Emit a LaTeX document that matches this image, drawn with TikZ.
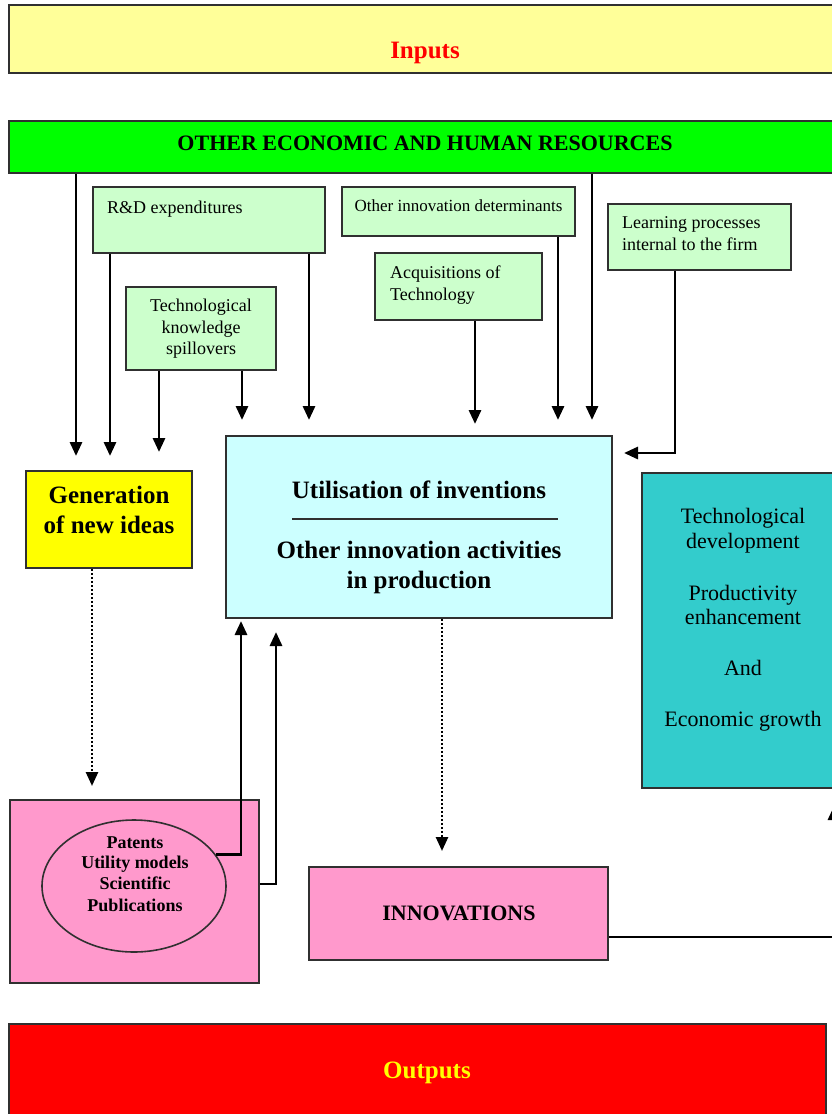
\documentclass[tikz,border=0pt]{standalone}
\usepackage{fontspec}
\setmainfont{Liberation Serif}
\usetikzlibrary{arrows.meta,shapes.geometric}
\definecolor{inpY}{HTML}{FFFF99}
\definecolor{resG}{HTML}{00FF00}
\definecolor{litG}{HTML}{CCFFCC}
\definecolor{litC}{HTML}{CCFFFF}
\definecolor{genY}{HTML}{FFFF00}
\definecolor{tealC}{HTML}{33CCCC}
\definecolor{pinkC}{HTML}{FF99CC}
\definecolor{redC}{HTML}{FF0000}
\definecolor{edgeC}{HTML}{303030}
\begin{document}
\begin{tikzpicture}[x=1pt,y=-1pt,
  box/.style={draw=edgeC, line width=1.5pt, rectangle, inner sep=0pt},
  arr/.style={line width=2.9pt, -{Triangle[width=12pt,length=14pt]}},
  dotarr/.style={line width=2.6pt, dash pattern=on 2pt off 2pt, -{Triangle[width=12pt,length=14pt]}},
  txt/.style={anchor=base, inner sep=0pt},
  txtw/.style={anchor=base west, inner sep=0pt},
  small/.style={font=\fontsize{18}{21}\selectfont},
  big/.style={font=\fontsize{25}{29}\selectfont\bfseries},
  teal/.style={font=\fontsize{22}{25}\selectfont},
  ellt/.style={font=\fontsize{18}{21}\selectfont\bfseries},
]
\clip (0,0) rectangle (832,1114);
\fill[white] (0,0) rectangle (832,1114);

% boxes
\node[box, fill=inpY, minimum width=841pt, minimum height=68pt] (inputs) at (429.5,39) {};
\node[box, fill=resG, minimum width=841pt, minimum height=52pt] (green) at (429.5,147) {};
\node[box, fill=litG, minimum width=232pt, minimum height=66pt] (rd) at (209,220) {};
\node[box, fill=litG, minimum width=233pt, minimum height=49pt] (oid) at (458.5,211.5) {};
\node[box, fill=litG, minimum width=183pt, minimum height=66pt] (learn) at (699.5,237) {};
\node[box, fill=litG, minimum width=167pt, minimum height=67pt] (acq) at (458.5,286.5) {};
\node[box, fill=litG, minimum width=150pt, minimum height=83pt] (spill) at (201,328.5) {};
\node[box, fill=litC, minimum width=386pt, minimum height=182pt] (util) at (419,527) {};
\node[box, fill=genY, minimum width=166pt, minimum height=97pt] (gen) at (109,519.5) {};
\node[box, fill=tealC, minimum width=208pt, minimum height=315pt] (tealbox) at (746,630.5) {};
\node[box, fill=pinkC, minimum width=249pt, minimum height=183pt] (pink) at (134.5,891.5) {};
\node[draw=edgeC, line width=1.6pt, ellipse, minimum width=184pt, minimum height=132pt, inner sep=0pt] (ell) at (134,886) {};
\node[box, fill=pinkC, minimum width=299pt, minimum height=93pt] (innov) at (458.5,913.5) {};
\node[box, fill=redC, minimum width=817pt, minimum height=106pt] (outputs) at (417.5,1077) {};

% texts
\node[txt, big, text=redC] (tin) at (425,58) {Inputs};
\node[txt, font=\fontsize{22}{25}\selectfont\bfseries] (tgr) at (425,150) {OTHER ECONOMIC AND HUMAN RESOURCES};
\node[txtw, small] (trd) at (107,213) {R\&D expenditures};
\node[txt, font=\fontsize{17}{20}\selectfont] (toid) at (458.5,211) {Other innovation determinants};
\node[txtw, small] (tl1) at (622,228) {Learning processes};
\node[txtw, small] (tl2) at (622,250) {internal to the firm};
\node[txtw, small] (ta1) at (390,278) {Acquisitions of};
\node[txtw, small] (ta2) at (390,300) {Technology};
\node[txt, small] (ts1) at (201,311) {Technological};
\node[txt, small] (ts2) at (201,333) {knowledge};
\node[txt, small] (ts3) at (201,354) {spillovers};
\node[txt, big] (tg1) at (109,503) {Generation};
\node[txt, big] (tg2) at (109,533) {of new ideas};
\node[txt, big] (tu1) at (419,498) {Utilisation of inventions};
\node[txt, big] (tu2) at (419,558) {Other innovation activities};
\node[txt, big] (tu3) at (419,588) {in production};
\draw[line width=1.6pt, edgeC] (292,519) -- (558,519);
\node[txt, teal] (tt1) at (743,523) {Technological};
\node[txt, teal] (tt2) at (743,548) {development};
\node[txt, teal] (tt3) at (743,600) {Productivity};
\node[txt, teal] (tt4) at (743,624) {enhancement};
\node[txt, teal] (tt5) at (743,675) {And};
\node[txt, teal] (tt6) at (743,726) {Economic growth};
\node[txt, ellt] (te1) at (135,848) {Patents};
\node[txt, ellt] (te2) at (135,868) {Utility models};
\node[txt, ellt] (te3) at (135,889) {Scientific};
\node[txt, ellt] (te4) at (135,911) {Publications};
\node[txt, font=\fontsize{22}{25}\selectfont\bfseries] (tinn) at (459,920) {INNOVATIONS};
\node[txt, big, text=genY] (tout) at (427,1078) {Outputs};

% arrow end points
\coordinate (e1) at (76,456);
\coordinate (e2) at (110,456);
\coordinate (e3) at (159,452);
\coordinate (e4) at (242,420);
\coordinate (e5) at (309,420);
\coordinate (e6) at (475,424);
\coordinate (e7) at (558,420);
\coordinate (e8) at (592,420);
\coordinate (e9) at (624,453);
\coordinate (e10) at (92,786);
\coordinate (e11) at (442,851);
\coordinate (e12) at (241,621);
\coordinate (e13) at (276,632);
\coordinate (e14) at (834,806);

% connectors
\draw[arr] (green.south -| e1) -- (e1);
\draw[arr] (rd.south -| e2) -- (e2);
\draw[arr] (rd.south -| e5) -- (e5);
\draw[arr] (spill.south -| e3) -- (e3);
\draw[arr] (spill.south -| e4) -- (e4);
\draw[arr] (acq.south -| e6) -- (e6);
\draw[arr] (oid.south -| e7) -- (e7);
\draw[arr] (green.south -| e8) -- (e8);
\draw[arr] ([xshift=-24.5pt]learn.south) |- (e9);
\draw[dotarr] (gen.south -| e10) -- (e10);
\draw[dotarr] (util.south -| e11) -- (e11);
\draw[arr] (ell.21) -| (e12);
\draw[arr] ([yshift=7.5pt]pink.east) -| (e13);
\draw[arr] ([yshift=-23.5pt]innov.east) -| (e14);
\end{tikzpicture}
\end{document}
